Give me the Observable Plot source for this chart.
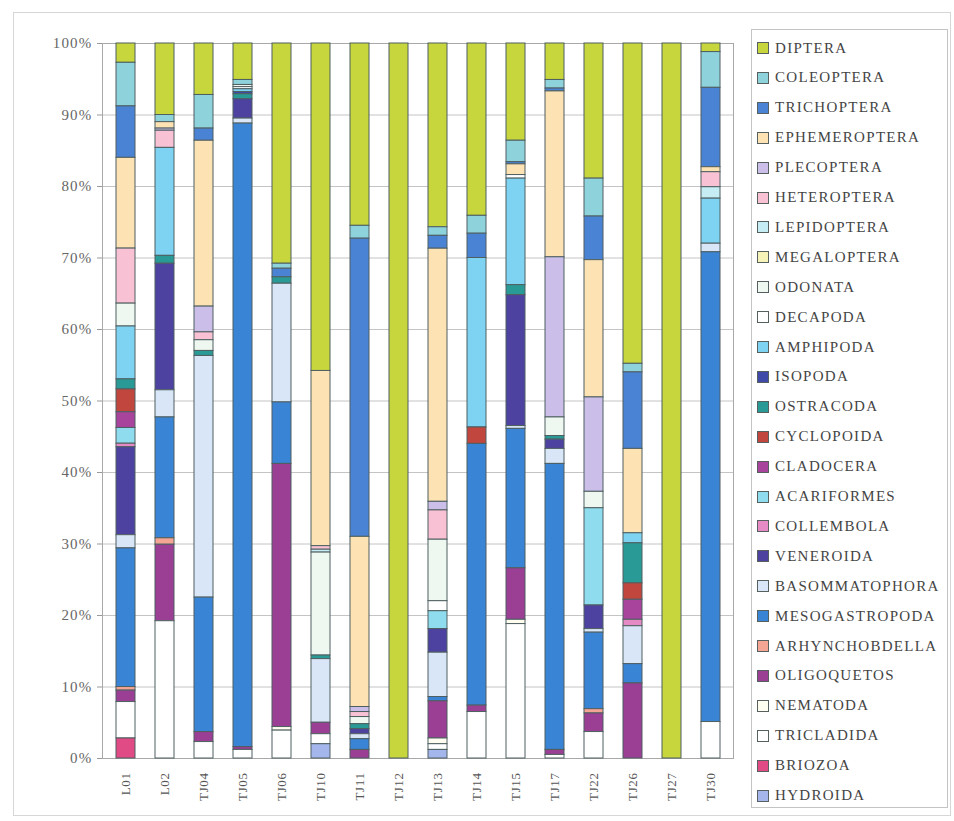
<!DOCTYPE html>
<html><head><meta charset="utf-8">
<script src="https://cdn.jsdelivr.net/npm/d3@7"></script>
<script src="https://cdn.jsdelivr.net/npm/@observablehq/plot@0.6"></script>
<style>
body{margin:0;background:#fff;}
#wrap{position:relative;width:954px;height:821px;overflow:hidden;font-family:"Liberation Serif","Times New Roman",serif;background:#fff;}
#chart{position:absolute;left:0;top:0;}
#border{position:absolute;left:13px;top:12px;width:936px;height:802px;border:1px solid #d6d6d6;}
#legend{position:absolute;left:751px;top:29px;width:197px;height:779px;border:1px solid #c4c4c4;box-sizing:border-box;background:#fff;}
.item{position:absolute;left:5px;height:20px;display:flex;align-items:center;font-size:15px;letter-spacing:1.3px;color:#444;white-space:nowrap;}
.sw{width:10px;height:10px;border:1px solid #55605f;margin-right:6px;flex:none;}
</style>
</head><body>
<div id="wrap"><div id="border"></div><div id="chart"></div><div id="legend"></div></div>
<script>
// Categories (x axis)
const sites = ["L01","L02","TJ04","TJ05","TJ06","TJ10","TJ11","TJ12","TJ13","TJ14","TJ15","TJ17","TJ22","TJ26","TJ27","TJ30"];
// Taxa in legend order (top of legend = top of stack)
const taxa = ["DIPTERA","COLEOPTERA","TRICHOPTERA","EPHEMEROPTERA","PLECOPTERA","HETEROPTERA","LEPIDOPTERA","MEGALOPTERA","ODONATA","DECAPODA","AMPHIPODA","ISOPODA","OSTRACODA","CYCLOPOIDA","CLADOCERA","ACARIFORMES","COLLEMBOLA","VENEROIDA","BASOMMATOPHORA","MESOGASTROPODA","ARHYNCHOBDELLA","OLIGOQUETOS","NEMATODA","TRICLADIDA","BRIOZOA","HYDROIDA"];
const colors = ["#c6d63c","#8ed3dc","#4a82d4","#fde2b4","#cbbfea","#f9c2d4","#c6ecf4","#f6f3b8","#eef8f0","#ffffff","#7fd3f2","#3f4aa8","#2a9a96","#c0463e","#a8449c","#8fdcee","#e58ac4","#4e42a0","#d9e6f8","#3a84d6","#f4a594","#9a3f94","#fffdf0","#ffffff","#e04a85","#a4b6ec"];
// Percent values per site, in legend order
const L01  = [2.7,6.1,7.2,12.7,0,7.7,0,0,3.2,0,7.4,0,1.4,3.2,2.2,2.2,0.5,12.3,1.85,19.4,0.5,1.6,0,5.1,2.8,0];
const L02  = [10.0,1.0,0,0.9,0.3,2.4,0,0,0,0,15.1,0,1.1,0,0,0,0,17.7,3.8,16.9,0.9,10.7,0,19.2,0,0];
const TJ04 = [7.2,4.7,1.7,23.2,3.6,1.1,0,0,1.5,0,0,0,0.7,0,0,0,0,0,33.8,18.8,0,1.4,0,2.3,0,0];
const TJ05 = [5.1,0.7,0,0,0,0,0,0,0.3,0.3,0.4,0.3,0.7,0,0,0,0,2.7,0.7,87.2,0,0.4,0,1.2,0,0];
const TJ06 = [30.8,0.7,1.2,0,0,0,0,0,0,0,0,0,0.9,0,0,0,0,0,16.6,8.6,0,36.8,0.5,3.9,0,0];
const TJ10 = [45.8,0,0,24.5,0,0.5,0.4,0,14.4,0,0,0,0.5,0,0,0,0,0,8.9,0,0,1.6,0,1.4,0,2.0];
const TJ11 = [25.5,1.8,41.7,23.8,0.7,0.7,0,0,1.0,0,0,0,0.7,0,0,0,0,0.7,0.7,1.5,0,1.2,0,0,0,0];
const TJ12 = [100,0,0,0,0,0,0,0,0,0,0,0,0,0,0,0,0,0,0,0,0,0,0,0,0,0];
const TJ13 = [25.7,1.2,1.8,35.4,1.2,4.1,0,0,8.6,1.4,0,0,0,0,0,2.5,0,3.3,6.2,0.6,0,5.2,0.8,0.8,0,1.2];
const TJ14 = [24.1,2.5,3.4,0,0,0,0,0,0,0,23.7,0,0,2.3,0,0,0,0,0,36.6,0,0.9,0,6.5,0,0];
const TJ15 = [13.6,3.0,0.3,1.5,0,0,0,0,0,0.5,14.9,0,1.4,0,0,0,0,18.3,0.4,19.5,0,7.2,0.6,18.8,0,0];
const TJ17 = [5.1,1.2,0.4,23.2,22.4,0,0,0,2.6,0,0,0,0.5,0,0,0,0,1.3,2.1,40.0,0,0.7,0,0.5,0,0];
const TJ22 = [18.9,5.3,6.1,19.2,13.2,0,0,0,2.3,0,0,0,0,0,0,13.6,0,3.3,0.5,10.7,0.6,2.6,0,3.7,0,0];
const TJ26 = [44.8,1.2,10.7,11.8,0,0,0,0,0,0,1.4,0,5.6,2.3,2.8,0,0.9,0,5.3,2.7,0,10.5,0,0,0,0];
const TJ27 = [100,0,0,0,0,0,0,0,0,0,0,0,0,0,0,0,0,0,0,0,0,0,0,0,0,0];
const TJ30 = [1.2,5.0,11.1,0.7,0,2.1,1.6,0,0,0,6.3,0,0,0,0,0,0,0,1.2,65.7,0,0,0,5.1,0,0];
const siteValues = [L01,L02,TJ04,TJ05,TJ06,TJ10,TJ11,TJ12,TJ13,TJ14,TJ15,TJ17,TJ22,TJ26,TJ27,TJ30];
const yTicks = [0,0.1,0.2,0.3,0.4,0.5,0.6,0.7,0.8,0.9,1];

const stackOrder = taxa.slice().reverse(); // bottom to top
const data = [];
sites.forEach((s,i) => siteValues[i].forEach((v,j) => { if (v > 0) data.push({site:s, taxon:taxa[j], value:v}); }));

const chart = Plot.plot({
  width: 740, height: 821,
  marginTop: 43, marginBottom: 63, marginLeft: 102, marginRight: 7,
  style: {fontFamily: "'Liberation Serif','Times New Roman',serif", color: "#555", background: "transparent"},
  x: {domain: sites, paddingInner: 0.52, paddingOuter: 0.26, label: null},
  y: {domain: [0,1], label: null},
  color: {type: "ordinal", domain: taxa, range: colors},
  marks: [
    Plot.gridY(yTicks, {stroke: "#c4c4c4", strokeOpacity: 1}),
    Plot.frame({stroke: "#a8a8a8"}),
    Plot.barY(data, Plot.stackY({x: "site", y: "value", fill: "taxon", order: stackOrder, offset: "normalize", stroke: "#4f5f60", strokeWidth: 1})),
    Plot.axisY({ticks: yTicks, tickFormat: d => Math.round(d*100) + "%", tickSize: 5, tickPadding: 5, fontSize: 15, label: null, stroke: "#999", fill: "#666"}),
    Plot.axisX({tickRotate: -90, tickSize: 0, tickPadding: 14, fontSize: 13, label: null, fill: "#555"})
  ]
});
document.getElementById("chart").appendChild(chart);
d3.select(chart).selectAll("g[aria-label='y-axis tick label'] text").attr("letter-spacing", "1.2");
d3.select(chart).selectAll("g[aria-label='x-axis tick label'] text").attr("letter-spacing", "0.6");

// Legend (HTML, right side)
const legend = d3.select("#legend");
taxa.forEach((t,i) => {
  const it = legend.append("div").attr("class","item").style("top", (8 + i*29.9) + "px");
  it.append("span").attr("class","sw").style("background", colors[i]);
  it.append("span").text(t);
});
</script>
</body></html>
